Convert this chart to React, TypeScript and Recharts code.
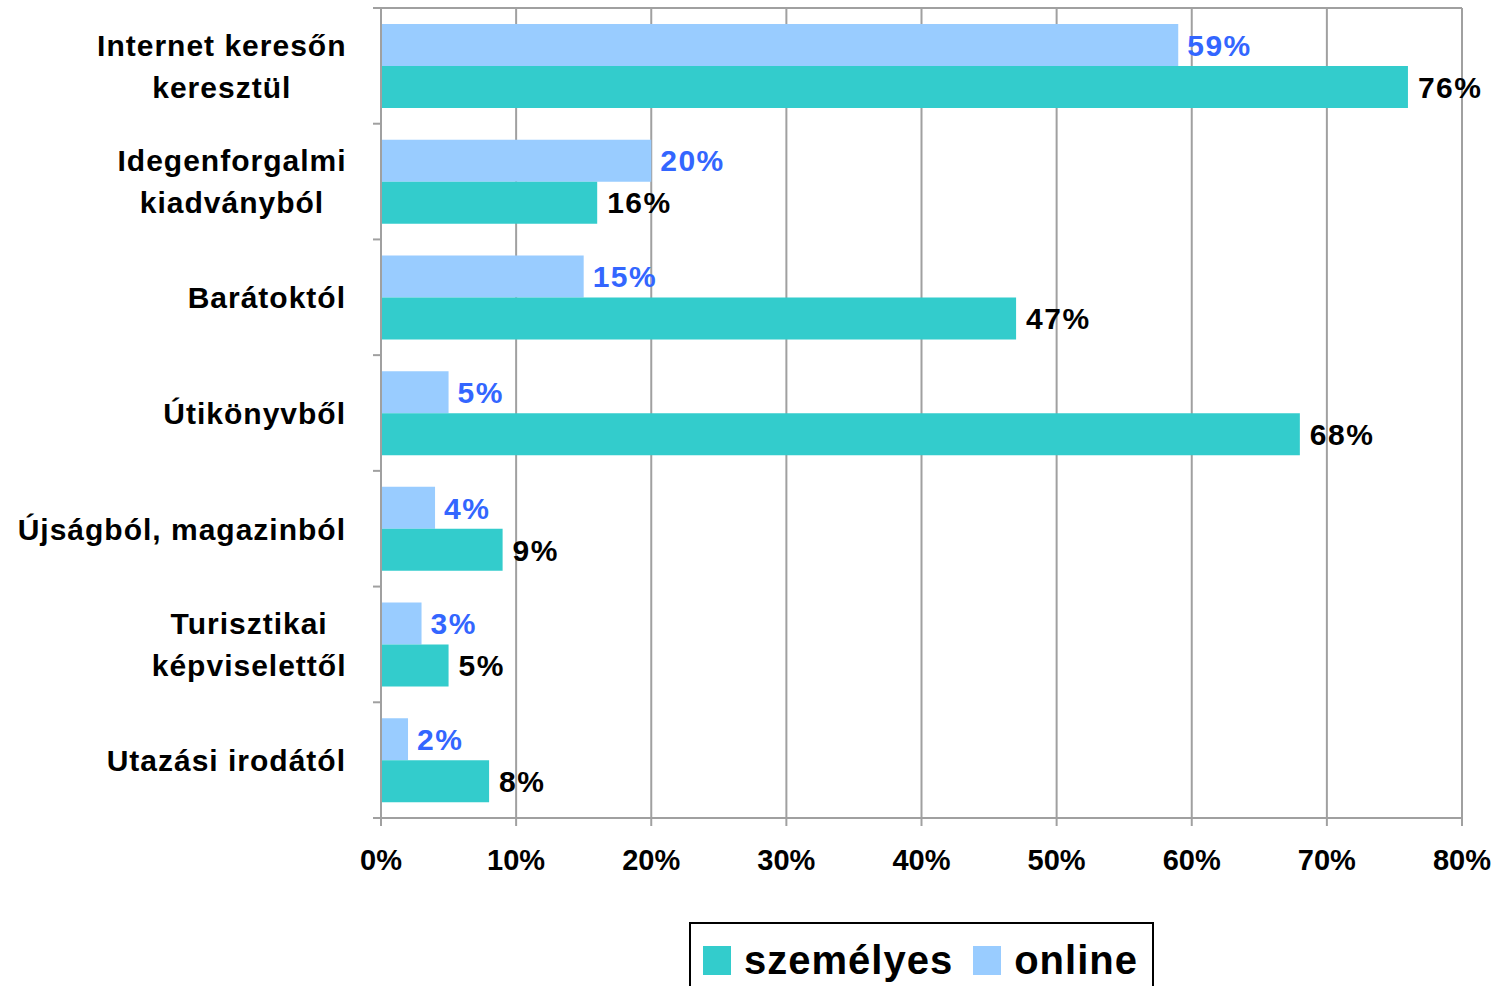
import React from "react";
import {
  BarChart,
  Bar,
  XAxis,
  YAxis,
  CartesianGrid,
  Legend,
  LabelList,
} from "recharts";

const categories = [
  "Internet keresőn\nkeresztül",
  "Idegenforgalmi\nkiadványból",
  "Barátoktól",
  "Útikönyvből",
  "Újságból, magazinból",
  "Turisztikai\nképviselettől",
  "Utazási irodától",
];
const online = [59, 20, 15, 5, 4, 3, 2];
const szemelyes = [76, 16, 47, 68, 9, 5, 8];
const xTicks = [0, 10, 20, 30, 40, 50, 60, 70, 80];

const data = categories.map((name, i) => ({
  name,
  online: online[i],
  szemelyes: szemelyes[i],
}));

const W = 1497;
const H = 986;
const MARGIN = { top: 8, right: 35, bottom: 108, left: 0 };
const Y_AXIS_W = 381;
const X_AXIS_H = 60;
const FONT = "'Liberation Sans', Arial, sans-serif";
const GRID = "#a0a0a0";
const TEAL = "#33CCCC";
const LIGHT = "#99CCFF";

const LABEL_SIZE = 30;
const LABEL_SPACING = 1;

let ctx: CanvasRenderingContext2D | null = null;
function textWidth(s: string) {
  if (!ctx) {
    ctx = document.createElement("canvas").getContext("2d");
  }
  if (!ctx) return s.length * LABEL_SIZE * 0.55;
  ctx.font = `bold ${LABEL_SIZE}px ${FONT}`;
  return ctx.measureText(s).width + LABEL_SPACING * (s.length - 1);
}

const plotH = H - MARGIN.top - MARGIN.bottom - X_AXIS_H;
const halfBand = plotH / categories.length / 2;

function CategoryTick(props: any) {
  const { x, y, payload, index } = props;
  const lines: string[] = String(payload.value).split("\n");
  const maxW = Math.max(...lines.map(textWidth));
  const cx = x - maxW / 2;
  const lh = 42;
  const startY = y - ((lines.length - 1) * lh) / 2;
  return (
    <g>
      <line x1={Y_AXIS_W - 8} x2={Y_AXIS_W} y1={y - halfBand} y2={y - halfBand} stroke={GRID} strokeWidth={2} />
      {index === categories.length - 1 && (
        <line x1={Y_AXIS_W - 8} x2={Y_AXIS_W} y1={y + halfBand} y2={y + halfBand} stroke={GRID} strokeWidth={2} />
      )}
      {lines.map((ln, i) => (
        <text
          key={i}
          x={lines.length > 1 ? cx : x}
          y={startY + i * lh}
          dy="0.36em"
          textAnchor={lines.length > 1 ? "middle" : "end"}
          fontFamily={FONT}
          fontWeight="bold"
          fontSize={LABEL_SIZE}
          letterSpacing={LABEL_SPACING}
          fill="#000"
        >
          {ln}
        </text>
      ))}
    </g>
  );
}

function LegendBox(props: any) {
  const items = [...(props.payload || [])].reverse();
  return (
    <div
      style={{
        border: "2px solid #000",
        height: 80,
        width: 465,
        boxSizing: "border-box",
        display: "flex",
        alignItems: "flex-start",
        paddingTop: 12,
        paddingLeft: 12,
        fontFamily: FONT,
        fontWeight: "bold",
        fontSize: 40,
        letterSpacing: 1,
      }}
    >
      {items.map((it: any) => (
        <div key={it.value} style={{ display: "flex", alignItems: "center", marginRight: 20 }}>
          <span style={{ width: 28, height: 29, background: it.color, display: "inline-block", marginRight: 13 }} />
          <span style={{ lineHeight: "48px" }}>{it.value}</span>
        </div>
      ))}
    </div>
  );
}

const valueStyle = { fontFamily: FONT, fontWeight: "bold", fontSize: 30, letterSpacing: 1.5 };

export default function App() {
  return (
    <div style={{ position: "absolute", left: 0, top: 0, width: W, height: H, background: "#fff" }}>
      <BarChart
        width={W}
        height={H}
        data={data}
        layout="vertical"
        margin={MARGIN}
        barCategoryGap={16}
        barGap={0}
      >
        <CartesianGrid
          stroke={GRID}
          strokeWidth={2}
          horizontalCoordinatesGenerator={({ offset }: any) => [offset.top]}
        />
        <XAxis
          type="number"
          domain={[0, 80]}
          ticks={xTicks}
          tickFormatter={(v) => `${v}%`}
          height={X_AXIS_H}
          axisLine={{ stroke: GRID, strokeWidth: 2 }}
          tickLine={{ stroke: GRID, strokeWidth: 2 }}
          tickSize={8}
          tickMargin={23}
          tick={{ fontFamily: FONT, fontWeight: "bold", fontSize: 29, fill: "#000" }}
          interval={0}
        />
        <YAxis
          type="category"
          dataKey="name"
          width={Y_AXIS_W}
          axisLine={{ stroke: GRID, strokeWidth: 2 }}
          tickLine={false}
          tickSize={8}
          tickMargin={27}
          tick={<CategoryTick />}
          interval={0}
        />
        <Legend
          layout="horizontal"
          verticalAlign="middle"
          align="center"
          wrapperStyle={{ left: 689, top: 922, width: 465 }}
          content={<LegendBox />}
        />
        <Bar dataKey="online" name="online" fill={LIGHT} isAnimationActive={false}>
          <LabelList
            dataKey="online"
            position="right"
            offset={9}
            formatter={(v: any) => `${v}%`}
            style={{ ...valueStyle, fill: "#3366FF" }}
          />
        </Bar>
        <Bar dataKey="szemelyes" name="személyes" fill={TEAL} isAnimationActive={false}>
          <LabelList
            dataKey="szemelyes"
            position="right"
            offset={10}
            formatter={(v: any) => `${v}%`}
            style={{ ...valueStyle, fill: "#000" }}
          />
        </Bar>
      </BarChart>
    </div>
  );
}
